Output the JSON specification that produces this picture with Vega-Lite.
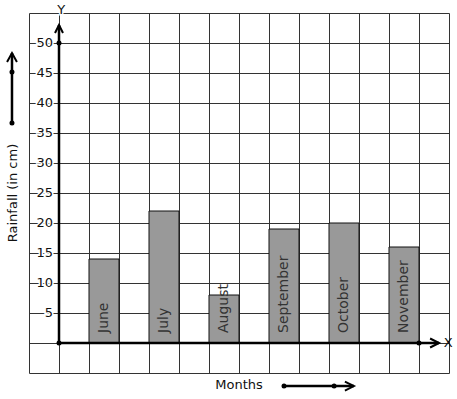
{
  "$schema": "https://vega.github.io/schema/vega-lite/v6.json",
  "width": 420,
  "height": 360,
  "autosize": {"type": "none"},
  "padding": {"left": 29, "top": 13, "right": 8, "bottom": 26},
  "background": "white",
  "config": {
    "view": {"stroke": null},
    "font": "DejaVu Sans",
    "axis": {"grid": true, "gridColor": "#333333", "gridOpacity": 1, "gridWidth": 1, "labels": false, "ticks": false, "domain": false, "tickCount": 30},
    "axisX": {"tickCount": 30},
    "axisY": {"tickCount": 30}
  },
  "data": {"values": [{"one": 1}]},
  "datasets": {
    "rain": [
      {"month": "June", "col": 1, "rainfall": 14},
      {"month": "July", "col": 3, "rainfall": 22},
      {"month": "August", "col": 5, "rainfall": 8},
      {"month": "September", "col": 7, "rainfall": 19},
      {"month": "October", "col": 9, "rainfall": 20},
      {"month": "November", "col": 11, "rainfall": 16}
    ],
    "yticks": [
      {"v": 5}, {"v": 10}, {"v": 15}, {"v": 20}, {"v": 25},
      {"v": 30}, {"v": 35}, {"v": 40}, {"v": 45}, {"v": 50}
    ]
  },
  "layer": [
    {
      "data": {"name": "rain"},
      "transform": [
        {"calculate": "datum.col + 1", "as": "col2"},
        {"calculate": "datum.col + 0.5", "as": "mid"}
      ],
      "layer": [
        {
          "mark": {"type": "rect", "fill": "#999999", "stroke": "#111111", "strokeWidth": 1},
          "encoding": {
            "x": {
              "field": "col", "type": "quantitative",
              "scale": {"domain": [-1, 13], "nice": false, "zero": false},
              "axis": {"values": [-1, 0, 1, 2, 3, 4, 5, 6, 7, 8, 9, 10, 11, 12, 13], "tickCount": 30, "grid": true, "labels": false, "ticks": false, "domain": false, "title": null}
            },
            "x2": {"field": "col2"},
            "y": {
              "field": "rainfall", "type": "quantitative",
              "scale": {"domain": [-5, 55], "nice": false, "zero": false},
              "axis": {"values": [-5, 0, 5, 10, 15, 20, 25, 30, 35, 40, 45, 50, 55], "tickCount": 30, "grid": true, "labels": false, "ticks": false, "domain": false, "title": null}
            },
            "y2": {"datum": 0}
          }
        },
        {
          "mark": {"type": "text", "angle": 270, "align": "left", "baseline": "middle", "dx": 10, "fontSize": 14, "fill": "#333333"},
          "encoding": {
            "x": {"field": "mid", "type": "quantitative"},
            "y": {"datum": 0, "type": "quantitative"},
            "text": {"field": "month"}
          }
        }
      ]
    },
    {
      "data": {"name": "yticks"},
      "layer": [
        {
          "mark": {"type": "text", "align": "right", "baseline": "middle", "fontSize": 13, "fill": "white", "stroke": "white", "strokeWidth": 3},
          "encoding": {
            "x": {"datum": -0.2, "type": "quantitative"},
            "y": {"field": "v", "type": "quantitative"},
            "text": {"field": "v", "type": "quantitative"}
          }
        },
        {
          "mark": {"type": "text", "align": "right", "baseline": "middle", "fontSize": 13, "fill": "#111111"},
          "encoding": {
            "x": {"datum": -0.2, "type": "quantitative"},
            "y": {"field": "v", "type": "quantitative"},
            "text": {"field": "v", "type": "quantitative"}
          }
        }
      ]
    },
    {
      "mark": {"type": "rule", "stroke": "black", "strokeWidth": 2.5},
      "encoding": {
        "x": {"datum": 0, "type": "quantitative"},
        "y": {"datum": 0, "type": "quantitative"},
        "y2": {"datum": 53}
      }
    },
    {
      "mark": {"type": "rule", "stroke": "black", "strokeWidth": 2.5},
      "encoding": {
        "x": {"datum": 0, "type": "quantitative"},
        "x2": {"datum": 12.67},
        "y": {"datum": 0, "type": "quantitative"}
      }
    },
    {
      "mark": {"type": "point", "shape": "M-0.5,1L0,0L0.5,1", "filled": false, "stroke": "black", "strokeWidth": 2, "size": 256, "opacity": 1},
      "encoding": {
        "x": {"datum": 0, "type": "quantitative"},
        "y": {"datum": 53, "type": "quantitative"}
      }
    },
    {
      "mark": {"type": "point", "shape": "M-1,-0.5L0,0L-1,0.5", "filled": false, "stroke": "black", "strokeWidth": 2, "size": 324, "opacity": 1},
      "encoding": {
        "x": {"datum": 12.67, "type": "quantitative"},
        "y": {"datum": 0, "type": "quantitative"}
      }
    },
    {
      "mark": {"type": "point", "shape": "circle", "filled": true, "fill": "black", "size": 25, "opacity": 1},
      "encoding": {
        "x": {"datum": 0, "type": "quantitative"},
        "y": {"datum": 0, "type": "quantitative"}
      }
    },
    {
      "mark": {"type": "point", "shape": "circle", "filled": true, "fill": "black", "size": 25, "opacity": 1},
      "encoding": {
        "x": {"datum": 0, "type": "quantitative"},
        "y": {"datum": 50, "type": "quantitative"}
      }
    },
    {
      "mark": {"type": "point", "shape": "circle", "filled": true, "fill": "black", "size": 25, "opacity": 1},
      "encoding": {
        "x": {"datum": 12, "type": "quantitative"},
        "y": {"datum": 0, "type": "quantitative"}
      }
    },
    {
      "mark": {"type": "rule", "stroke": "black", "strokeWidth": 2.5},
      "encoding": {
        "x": {"datum": -1.567, "type": "quantitative"},
        "y": {"datum": 36.67, "type": "quantitative"},
        "y2": {"datum": 48.33}
      }
    },
    {
      "mark": {"type": "point", "shape": "M-0.55,1L0,0L0.55,1", "filled": false, "stroke": "black", "strokeWidth": 2, "size": 324, "opacity": 1},
      "encoding": {
        "x": {"datum": -1.567, "type": "quantitative"},
        "y": {"datum": 48.33, "type": "quantitative"}
      }
    },
    {
      "mark": {"type": "point", "shape": "circle", "filled": true, "fill": "black", "size": 25, "opacity": 1},
      "encoding": {
        "x": {"datum": -1.567, "type": "quantitative"},
        "y": {"datum": 36.67, "type": "quantitative"}
      }
    },
    {
      "mark": {"type": "point", "shape": "circle", "filled": true, "fill": "black", "size": 25, "opacity": 1},
      "encoding": {
        "x": {"datum": -1.567, "type": "quantitative"},
        "y": {"datum": 45.17, "type": "quantitative"}
      }
    },
    {
      "mark": {"type": "rule", "stroke": "black", "strokeWidth": 2.5},
      "encoding": {
        "x": {"datum": 7.5, "type": "quantitative"},
        "x2": {"datum": 9.83},
        "y": {"datum": -7.17, "type": "quantitative"}
      }
    },
    {
      "mark": {"type": "point", "shape": "M-1,-0.5L0,0L-1,0.5", "filled": false, "stroke": "black", "strokeWidth": 2, "size": 324, "opacity": 1},
      "encoding": {
        "x": {"datum": 9.83, "type": "quantitative"},
        "y": {"datum": -7.17, "type": "quantitative"}
      }
    },
    {
      "mark": {"type": "point", "shape": "circle", "filled": true, "fill": "black", "size": 25, "opacity": 1},
      "encoding": {
        "x": {"datum": 7.5, "type": "quantitative"},
        "y": {"datum": -7.17, "type": "quantitative"}
      }
    },
    {
      "mark": {"type": "point", "shape": "circle", "filled": true, "fill": "black", "size": 25, "opacity": 1},
      "encoding": {
        "x": {"datum": 9.17, "type": "quantitative"},
        "y": {"datum": -7.17, "type": "quantitative"}
      }
    },
    {
      "mark": {"type": "text", "fontSize": 13, "angle": 270, "align": "center", "baseline": "middle", "fill": "#111111", "text": "Rainfall (in cm)"},
      "encoding": {
        "x": {"datum": -1.53, "type": "quantitative"},
        "y": {"datum": 25, "type": "quantitative"}
      }
    },
    {
      "mark": {"type": "text", "fontSize": 13, "align": "center", "baseline": "middle", "fill": "#111111", "text": "Months"},
      "encoding": {
        "x": {"datum": 6.0, "type": "quantitative"},
        "y": {"datum": -7.0, "type": "quantitative"}
      }
    },
    {
      "mark": {"type": "text", "fontSize": 13, "align": "center", "baseline": "middle", "fill": "white", "stroke": "white", "strokeWidth": 3, "text": "Y"},
      "encoding": {
        "x": {"datum": 0.07, "type": "quantitative"},
        "y": {"datum": 55.5, "type": "quantitative"}
      }
    },
    {
      "mark": {"type": "text", "fontSize": 13, "align": "center", "baseline": "middle", "fill": "#111111", "text": "Y"},
      "encoding": {
        "x": {"datum": 0.07, "type": "quantitative"},
        "y": {"datum": 55.5, "type": "quantitative"}
      }
    },
    {
      "mark": {"type": "text", "fontSize": 13, "align": "center", "baseline": "middle", "fill": "#111111", "text": "X"},
      "encoding": {
        "x": {"datum": 12.97, "type": "quantitative"},
        "y": {"datum": 0, "type": "quantitative"}
      }
    }
  ]
}
